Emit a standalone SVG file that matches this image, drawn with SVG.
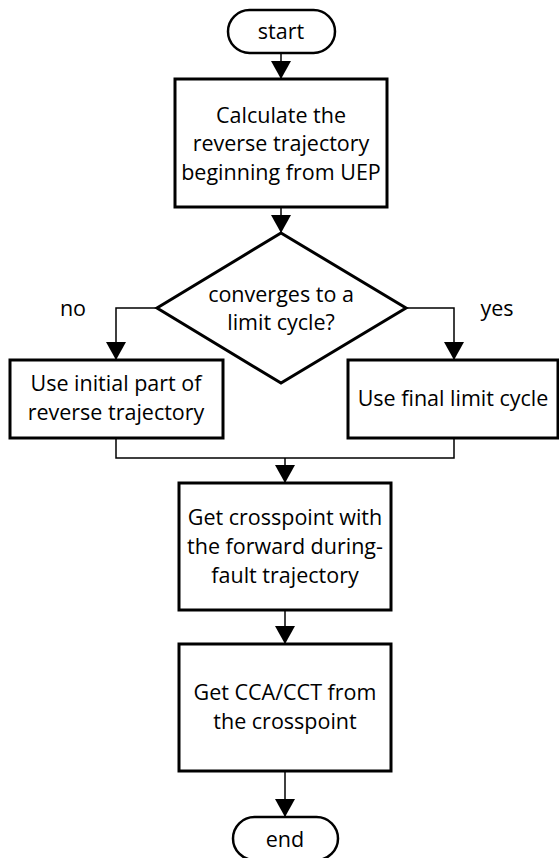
<svg xmlns="http://www.w3.org/2000/svg" width="559" height="858" viewBox="0 0 559 858">
<defs>
<style>
.box{fill:#fff;stroke:#000;stroke-width:3}
.term{fill:#fff;stroke:#000;stroke-width:2.5}
.con{fill:none;stroke:#000;stroke-width:1.5}
text{font-family:"Open Sans","Liberation Sans",sans-serif;font-size:21.5px;fill:#000;text-anchor:middle}
</style>
<marker id="ah" markerUnits="userSpaceOnUse" markerWidth="22" markerHeight="20" viewBox="0 0 22 20" refX="20" refY="10" orient="auto">
<path d="M2,0 L20,10 L2,20 Z" fill="#000"/>
</marker>
</defs>
<g id="connectors">
<line class="con" x1="281" y1="53" x2="281" y2="79" marker-end="url(#ah)"/>
<line class="con" x1="281" y1="207" x2="281" y2="233" marker-end="url(#ah)"/>
<polyline class="con" points="157,308 116,308 116,360" marker-end="url(#ah)"/>
<polyline class="con" points="406,308 454,308 454,360" marker-end="url(#ah)"/>
<polyline class="con" points="116,438 116,458 454,458 454,438"/>
<line class="con" x1="285" y1="458" x2="285" y2="483" marker-end="url(#ah)"/>
<line class="con" x1="285" y1="610" x2="285" y2="644" marker-end="url(#ah)"/>
<line class="con" x1="285" y1="771" x2="285" y2="817" marker-end="url(#ah)"/>
<text x="73" y="316">no</text>
<text x="497" y="316">yes</text>
</g>
<g id="start">
<rect class="term" x="228" y="10" width="107" height="43" rx="21.5"/>
<text x="281" y="39">start</text>
</g>
<g id="calc">
<rect class="box" x="175" y="79" width="212" height="128"/>
<text x="281" y="123">Calculate the</text>
<text x="281" y="151">reverse trajectory</text>
<text x="281" y="180">beginning from UEP</text>
</g>
<g id="decision">
<polygon class="box" points="281,233 406,308 281,383 157,308"/>
<text x="281" y="302">converges to a</text>
<text x="281" y="330">limit cycle?</text>
</g>
<g id="initial">
<rect class="box" x="10" y="360" width="213" height="78"/>
<text x="116" y="391">Use initial part of</text>
<text x="116" y="420">reverse trajectory</text>
</g>
<g id="final">
<rect class="box" x="348" y="360" width="210" height="78"/>
<text x="453" y="406">Use final limit cycle</text>
</g>
<g id="crosspoint">
<rect class="box" x="179" y="483" width="212" height="127"/>
<text x="285" y="525">Get crosspoint with</text>
<text x="285" y="554">the forward during-</text>
<text x="285" y="583">fault trajectory</text>
</g>
<g id="cca">
<rect class="box" x="179" y="644" width="212" height="127"/>
<text x="285" y="700">Get CCA/CCT from</text>
<text x="285" y="729">the crosspoint</text>
</g>
<g id="end">
<rect class="term" x="233" y="817" width="105" height="43" rx="21.5"/>
<text x="285" y="847">end</text>
</g>
</svg>
